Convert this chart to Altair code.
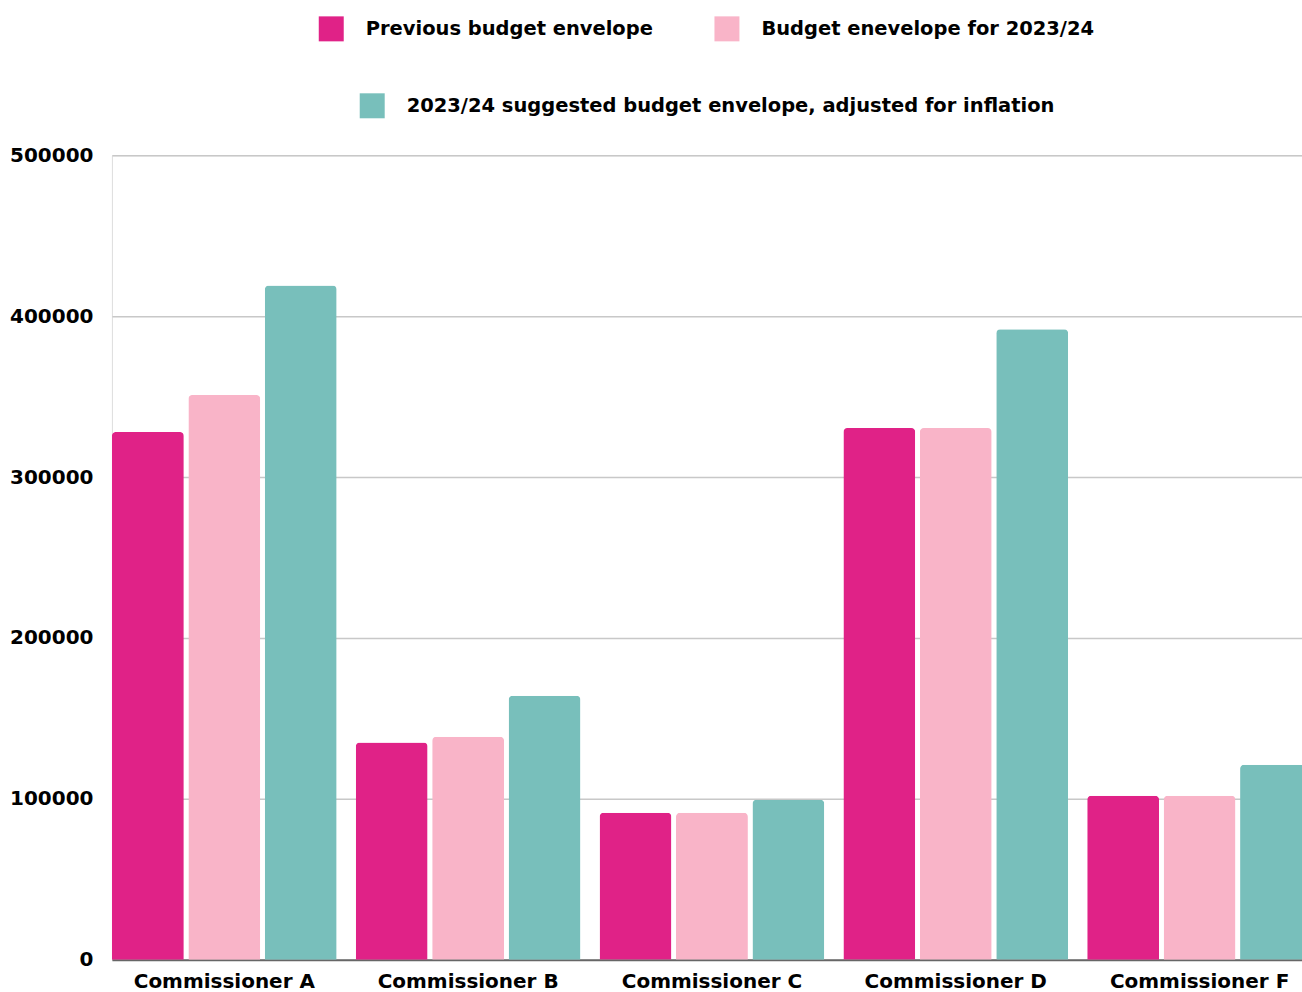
import altair as alt
import pandas as pd

categories = ["Commissioner A", "Commissioner B", "Commissioner C", "Commissioner D", "Commissioner F"]
series = [
    "Previous budget envelope",
    "Budget enevelope for 2023/24",
    "2023/24 suggested budget envelope, adjusted for inflation",
]
previous = [328000, 135000, 91300, 330400, 101900]
budget_2324 = [351000, 138500, 91300, 330400, 101900]
suggested = [419000, 164000, 99400, 391900, 121100]
colors = ["#E02287", "#F9B4C8", "#78BFBB"]
y_ticks = [0, 100000, 200000, 300000, 400000, 500000]

rows = []
for i, c in enumerate(categories):
    for s, vals in zip(series, [previous, budget_2324, suggested]):
        rows.append({"category": c, "series": s, "value": vals[i]})
df = pd.DataFrame(rows)

FONT = "DejaVu Sans"
FS = 20
LFS = 19.5

legend_common = dict(
    title=None, orient="none", direction="horizontal",
    symbolType="square", symbolSize=625, symbolStrokeWidth=0,
    labelFont=FONT, labelFontSize=LFS, labelFontWeight="bold",
    labelColor="#000000", labelOffset=22, labelLimit=900,
    columnPadding=61,
)

x_enc = alt.X(
    "category:N",
    sort=categories,
    scale=alt.Scale(paddingInner=0.078, paddingOuter=0),
    axis=alt.Axis(
        title=None, labelAngle=0, ticks=False, domain=False, grid=False,
        labelFont=FONT, labelFontSize=FS, labelFontWeight="bold",
        labelColor="#000000", labelPadding=12, labelLimit=400,
    ),
)
xoff_enc = alt.XOffset(
    "series:N", sort=series,
    scale=alt.Scale(domain=series, paddingInner=0.059, paddingOuter=0),
)
y_enc = alt.Y(
    "value:Q",
    scale=alt.Scale(domain=[0, 500000], nice=False),
    axis=alt.Axis(
        title=None, values=y_ticks, format="d", ticks=False, domain=False,
        labelFont=FONT, labelFontSize=FS, labelFontWeight="bold",
        labelColor="#000000", labelPadding=19,
        gridColor=alt.condition("datum.value === 0", alt.value("#666666"), alt.value("#C8C8C8")),
        gridWidth=alt.condition("datum.value === 0", alt.value(2), alt.value(1.5)),
    ),
)

base = alt.Chart(df)

bars12 = base.transform_filter(
    alt.FieldOneOfPredicate(field="series", oneOf=series[:2])
).mark_bar(cornerRadiusTopLeft=4, cornerRadiusTopRight=4).encode(
    x=x_enc, xOffset=xoff_enc, y=y_enc,
    color=alt.Color(
        "series:N", sort=series[:2],
        scale=alt.Scale(domain=series[:2], range=colors[:2]),
        legend=alt.Legend(legendX=207, legendY=-139, **legend_common),
    ),
)

bars3 = base.transform_filter(
    alt.FieldEqualPredicate(field="series", equal=series[2])
).mark_bar(cornerRadiusTopLeft=4, cornerRadiusTopRight=4).encode(
    x=x_enc, xOffset=xoff_enc, y=y_enc,
    fill=alt.Fill(
        "series:N",
        scale=alt.Scale(domain=series[2:], range=colors[2:]),
        legend=alt.Legend(legendX=248, legendY=-62, **legend_common),
    ),
)

chart = alt.layer(bars12, bars3).properties(
    width=1201, height=805,
    padding={"left": 9, "top": 16, "right": -11, "bottom": 0},
).configure_view(
    stroke="transparent", strokeWidth=0, strokeOpacity=0
).configure_axis(
    domain=False
).configure_axisX(
    grid=False
).configure(background="#FFFFFF")

chart.save("out.html", embed_options={"renderer": "svg", "actions": False})
